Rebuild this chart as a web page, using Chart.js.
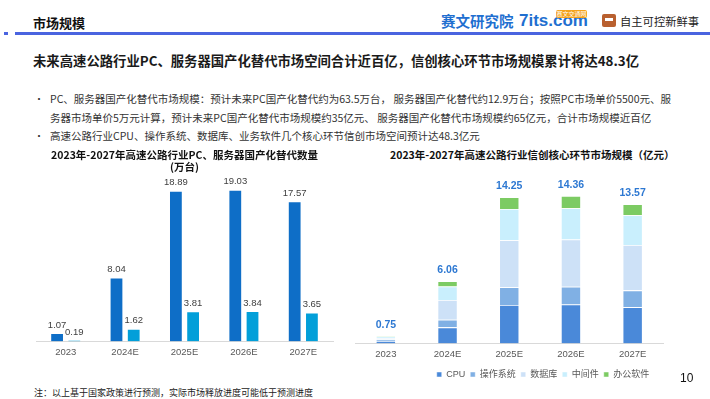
<!DOCTYPE html>
<html>
<head>
<meta charset="utf-8">
<script src="https://cdn.jsdelivr.net/npm/chart.js@4.4.0/dist/chart.umd.min.js"></script>
<style>
  body { margin: 0; width: 710px; height: 399px; overflow: hidden; position: relative; background: #fff;
         font-family: "Noto Sans CJK SC", sans-serif; color: #222; }
  .abs { position: absolute; white-space: nowrap; }
  .hdr { left: 33px; top: 14px; font-size: 13px; font-weight: bold; color: #111; line-height: 18px; }
  .bar { left: 15px; top: 32px; width: 695px; height: 3px; background: #4a64e0; }
  .sq { left: 4px; top: 32px; width: 4px; height: 3px; background: #4a64e0; }
  .logo1 { left: 441px; top: 11px; font-size: 14.5px; font-weight: bold; color: #1f6fd0; line-height: 20px; }
  .logo2 { left: 519px; top: 10px; font-family: "Liberation Sans", sans-serif; font-size: 17px; font-weight: bold; color: #1f6fd0; line-height: 22px; }
  .badge { left: 556px; top: 10px; width: 31px; height: 8px; background: #f5a31c; border-radius: 2px; color: #fff; font-size: 6px; line-height: 8px; text-align: center; }
  .icon { left: 602px; top: 14px; width: 14px; height: 13px; background: #b9602f; border-radius: 2px; }
  .icon2 { left: 605px; top: 18px; width: 8px; height: 3px; background: #fff; }
  .logo3 { left: 620px; top: 13px; font-size: 11.3px; color: #222; line-height: 16px; }
  .headline { left: 33px; top: 52px; font-size: 13.35px; font-weight: bold; color: #1a1a1a; line-height: 18px; }
  .bullet { left: 50px; font-size: 10.5px; color: #333; line-height: 14px; }
  .dot { left: 34px; font-size: 10px; color: #333; line-height: 14px; }
  .rtitle { left: 390px; top: 148px; font-size: 10.5px; font-weight: bold; color: #111; line-height: 14px; }
  .note { left: 34px; top: 386px; font-size: 9px; color: #222; line-height: 13px; }
  .page { left: 680px; top: 370px; font-family: "Liberation Sans", sans-serif; font-size: 12px; color: #111; line-height: 16px; }
  #leftWrap { position: absolute; left: 0; top: 144px; width: 350px; height: 222px; }
  #rightWrap { position: absolute; left: 355px; top: 170px; width: 376px; height: 219px; }
</style>
</head>
<body>
<div class="abs hdr">市场规模</div>
<div class="abs sq"></div>
<div class="abs bar"></div>
<div class="abs logo1">赛文研究院</div>
<div class="abs logo2">7its.com</div>
<div class="abs badge">赛文交通网</div>
<div class="abs icon"></div>
<div class="abs icon2"></div>
<div class="abs logo3">自主可控新鲜事</div>

<div class="abs headline">未来高速公路行业PC、服务器国产化替代市场空间合计近百亿，信创核心环节市场规模累计将达48.3亿</div>

<div class="abs dot" style="top:92px">•</div>
<div class="abs bullet" style="top:92px">PC、服务器国产化替代市场规模：预计未来PC国产化替代约为63.5万台， 服务器国产化替代约12.9万台；按照PC市场单价5500元、服</div>
<div class="abs bullet" style="top:111px">务器市场单价5万元计算，预计未来PC国产化替代市场规模约35亿元、 服务器国产化替代市场规模约65亿元，合计市场规模近百亿</div>
<div class="abs dot" style="top:129px">•</div>
<div class="abs bullet" style="top:129px">高速公路行业CPU、操作系统、数据库、业务软件几个核心环节信创市场空间预计达48.3亿元</div>

<div class="abs rtitle">2023年-2027年高速公路行业信创核心环节市场规模（亿元）</div>

<div id="leftWrap"><canvas id="leftChart"></canvas></div>
<div id="rightWrap"><canvas id="rightChart"></canvas></div>

<div class="abs note">注：以上基于国家政策进行预测，实际市场释放进度可能低于预测进度</div>
<div class="abs page">10</div>

<script>
// chart data
const years = ['2023', '2024E', '2025E', '2026E', '2027E'];
const pcUnits = [1.07, 8.04, 18.89, 19.03, 17.57];
const serverUnits = [0.19, 1.62, 3.81, 3.84, 3.65];

const segNames = ['CPU', '操作系统', '数据库', '中间件', '办公软件'];
const cpuValues = [0.26, 1.58, 3.75, 3.81, 3.55];
const osValues = [0.13, 0.74, 1.73, 1.73, 1.63];
const dbValues = [0.16, 1.92, 4.58, 4.58, 4.42];
const midValues = [0.13, 1.31, 3.04, 3.04, 2.88];
const officeValues = [0.07, 0.51, 1.15, 1.20, 1.09];
const totals = [0.75, 6.06, 14.25, 14.36, 13.57];

const segColors = ['#4a89d9', '#80b0e4', '#cde1f7', '#c9effd', '#7ccb63'];

Chart.defaults.font.family = '"Liberation Sans", "Noto Sans CJK SC", sans-serif';
Chart.defaults.animation = false;

// Draw value labels above each bar of the grouped chart
const groupLabels = {
    id: 'groupLabels',
    afterDatasetsDraw(chart) {
        const ctx = chart.ctx;
        ctx.save();
        ctx.font = '9.5px "Liberation Sans", sans-serif';
        ctx.fillStyle = '#404040';
        ctx.textAlign = 'center';
        ctx.textBaseline = 'middle';
        chart.data.datasets.forEach((ds, di) => {
            chart.getDatasetMeta(di).data.forEach((bar, i) => {
                ctx.fillText(ds.data[i].toFixed(2), bar.x, bar.y - 8);
            });
        });
        ctx.restore();
    }
};

// Draw the stack totals above the stacked bars
const totalLabels = {
    id: 'totalLabels',
    afterDatasetsDraw(chart) {
        const ctx = chart.ctx;
        const last = chart.getDatasetMeta(chart.data.datasets.length - 1);
        ctx.save();
        ctx.font = 'bold 10.5px "Liberation Sans", sans-serif';
        ctx.fillStyle = '#2d78d2';
        ctx.textAlign = 'center';
        ctx.textBaseline = 'middle';
        last.data.forEach((bar, i) => {
            ctx.fillText(totals[i].toFixed(2), bar.x, bar.y - 11);
        });
        ctx.restore();
    }
};

const leftChart = new Chart(document.getElementById('leftChart'), {
    type: 'bar',
    data: {
        labels: years,
        datasets: [
            {
                label: 'PC',
                data: pcUnits,
                backgroundColor: '#0e6ec7',
                borderColor: 'rgba(255,255,255,0.5)',
                borderWidth: 1,
                categoryPercentage: 0.58,
                barPercentage: 0.8,
            },
            {
                label: '服务器',
                data: serverUnits,
                backgroundColor: '#029fd9',
                borderColor: 'rgba(255,255,255,0.5)',
                borderWidth: 1,
                categoryPercentage: 0.58,
                barPercentage: 0.8,
            },
        ],
    },
    options: {
        responsive: true,
        maintainAspectRatio: false,
        layout: { padding: { left: 36, right: 17, top: 0, bottom: 3 } },
        scales: {
            x: {
                grid: { display: false, drawTicks: false },
                border: { display: true, color: '#d9d9d9' },
                ticks: { color: '#595959', font: { size: 9.5 }, padding: 5 },
            },
            y: {
                display: false,
                min: 0,
                max: 20.69,
            },
        },
        plugins: {
            legend: { display: false },
            tooltip: { enabled: false },
            title: {
                display: true,
                text: ['2023年-2027年高速公路行业PC、服务器国产化替代数量', '(万台)'],
                color: '#111',
                font: { family: '"Noto Sans CJK SC", sans-serif', size: 10.5, weight: 'bold', lineHeight: 1.114 },
                padding: { top: 5, bottom: 4 },
            },
        },
    },
    plugins: [groupLabels],
});

const segData = [cpuValues, osValues, dbValues, midValues, officeValues];

const rightChart = new Chart(document.getElementById('rightChart'), {
    type: 'bar',
    data: {
        labels: years,
        datasets: segNames.map((name, k) => ({
            label: name,
            data: segData[k],
            backgroundColor: segColors[k],
            borderColor: 'rgba(255,255,255,0.6)',
            borderWidth: 0.8,
            categoryPercentage: 0.65,
            barPercentage: 0.5,
        })),
    },
    options: {
        responsive: true,
        maintainAspectRatio: false,
        layout: { padding: { left: 0, right: 0, top: 5, bottom: 0 } },
        scales: {
            x: {
                stacked: true,
                grid: { display: false, drawTicks: false },
                border: { display: true, color: '#d9d9d9' },
                ticks: { color: '#595959', font: { size: 9.5 }, padding: 5 },
            },
            y: {
                stacked: true,
                position: 'right',
                min: 0,
                max: 16.4,
                grid: { display: false, drawTicks: false },
                border: { display: false },
                ticks: { display: false },
                afterFit(scale) { scale.width = 67.5; },
            },
        },
        plugins: {
            legend: {
                display: true,
                position: 'bottom',
                labels: {
                    boxWidth: 5,
                    boxHeight: 5,
                    padding: 5,
                    color: '#595959',
                    font: { size: 9 },
                },
            },
            tooltip: { enabled: false },
        },
    },
    plugins: [totalLabels],
});
</script>
</body>
</html>
